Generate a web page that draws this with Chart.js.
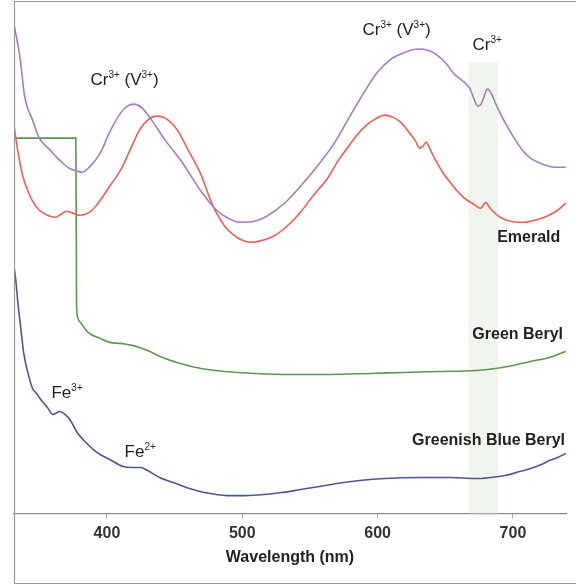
<!DOCTYPE html>
<html>
<head>
<meta charset="utf-8">
<script src="https://cdn.jsdelivr.net/npm/chart.js@4.4.1/dist/chart.umd.min.js"></script>
<style>
html,body{margin:0;padding:0;background:#fff;}
canvas{display:block;}
</style>
</head>
<body>
<canvas id="c" width="576" height="587"></canvas>
<script>
// Wavelengths (nm) and relative absorbance readings for each spectrum
const purpleNm = [331,336,339,345,350,358,365,372,378,381.5,387,395,402,410,415,420,426,432,443,456,469,481,491,498,509,518,532,543,556,567,580,591,600,609,619,625,631,636.5,643,651,656.5,662,668,671,674,676.5,679,681,683,688,694,700,707,713,722,731,739];
const purpleAbs = [4.91,4.53,4.18,3.93,3.75,3.63,3.53,3.45,3.42,3.41,3.46,3.60,3.81,4.00,4.07,4.09,4.05,3.95,3.73,3.50,3.23,3.03,2.94,2.91,2.92,2.97,3.11,3.27,3.48,3.68,3.98,4.23,4.41,4.53,4.60,4.63,4.64,4.63,4.59,4.49,4.39,4.33,4.25,4.15,4.07,4.09,4.18,4.24,4.22,4.07,3.91,3.77,3.63,3.55,3.49,3.46,3.46];

const emeraldNm = [331,334,338,342,345,350,356,362,366,370,375,379,384,389,395,402,410,417,424,430,437,443,452,460,469,476,481,487,493,500,506,515,523,533,543,552,563,572,577,584,591,598,605.5,611,617,622.5,628,631,633.5,636,638,642,648,653.5,659,665,671,676,678,680,682,686,690.5,698,707.5,716,725,733,739];
const emeraldAbs = [3.91,3.63,3.36,3.21,3.12,3.03,2.98,2.96,2.99,3.02,3.00,2.98,2.99,3.03,3.13,3.27,3.43,3.63,3.83,3.93,3.97,3.95,3.83,3.63,3.40,3.15,3.00,2.87,2.79,2.73,2.71,2.73,2.77,2.87,3.01,3.17,3.35,3.55,3.64,3.77,3.87,3.94,3.98,3.96,3.91,3.82,3.72,3.65,3.67,3.71,3.66,3.55,3.41,3.31,3.22,3.14,3.09,3.05,3.08,3.11,3.07,3.01,2.96,2.92,2.91,2.93,2.97,3.03,3.10];

const greenNm = [331,350,365,377,377.5,378,381,386,395,402,410,418.5,424,430,436,443,454,469.5,487,510,535,565,594,619,646,673,687,700,713,727,739];
const greenAbs = [3.75,3.75,3.75,3.75,2.13,1.98,1.90,1.81,1.75,1.71,1.70,1.68,1.66,1.63,1.59,1.55,1.50,1.45,1.42,1.40,1.39,1.39,1.40,1.41,1.42,1.43,1.45,1.48,1.52,1.56,1.62];

const blueNm = [331,333,334,336.5,338.5,341.5,345,348,350.5,356,360,362,365,369,373,378,383,390,395,402,412,419,425,430,439,451,461,472,489,502,516,529,543,557,570,587,605.5,632,653.5,673,683,694,705,713,721,727,733,739];
const blueAbs = [2.51,2.28,2.13,1.83,1.60,1.41,1.25,1.20,1.15,1.06,0.99,1.00,1.02,0.99,0.93,0.81,0.73,0.64,0.59,0.54,0.47,0.46,0.46,0.43,0.36,0.30,0.25,0.21,0.18,0.18,0.19,0.21,0.24,0.27,0.30,0.33,0.35,0.36,0.36,0.35,0.36,0.38,0.42,0.45,0.49,0.53,0.56,0.60];

const xTicks = [400,500,600,700];
const xRange = [331.3,739.2];
const yRange = [0,5];
const band = [667,689,4.51]; // Cr3+ highlighted band: from, to, top

// Annotation labels: [segments, wavelength, absorbance, align, bold]
const labels = [
  [[['Cr'],['3+',1],[' (V'],['3+',1],[')']], 413, 4.33, 'center', false],
  [[['Cr'],['3+',1],[' (V'],['3+',1],[')']], 614, 4.83, 'center', false],
  [[['Cr'],['3+',1]], 681, 4.68, 'center', false],
  [[['Emerald']], 735, 2.76, 'right', true],
  [[['Green Beryl']], 737, 1.79, 'right', true],
  [[['Greenish Blue Beryl']], 738.5, 0.73, 'right', true],
  [[['Fe'],['3+',1]], 359, 1.20, 'left', false],
  [[['Fe'],['2+',1]], 413, 0.61, 'left', false]
];

const FONT = "'Liberation Sans',Arial,sans-serif";

function pts(xs, ys){ return xs.map((x,i)=>({x:x, y:ys[i]})); }

const framePlugin = {
  id:'frame',
  beforeDatasetsDraw(chart){
    const {ctx, scales:{x,y}, chartArea} = chart;
    ctx.save();
    ctx.fillStyle = 'rgba(222,234,214,0.45)';
    const x0 = x.getPixelForValue(band[0]), x1 = x.getPixelForValue(band[1]);
    const yt = y.getPixelForValue(band[2]);
    ctx.fillRect(x0, yt, x1-x0, chartArea.bottom-yt);
    ctx.restore();
  },
  afterDraw(chart){
    const {ctx, scales:{x,y}, chartArea} = chart;
    ctx.save();
    ctx.strokeStyle = '#9a9a9a';
    ctx.lineWidth = 1.2;
    ctx.beginPath();
    ctx.moveTo(576, 1.5);
    ctx.lineTo(chartArea.left+0.5, 1.5);
    ctx.lineTo(chartArea.left+0.5, 583.5);
    ctx.lineTo(576, 583.5);
    ctx.stroke();
    // labels
    ctx.fillStyle = '#222';
    ctx.textBaseline = 'middle';
    labels.forEach(([segs, lx, ly, align, bold])=>{
      const base = bold ? 'bold 16px ' : '17px ';
      const sup = bold ? 'bold 10px ' : '10px ';
      let w = 0;
      segs.forEach(s=>{ ctx.font = (s[1]?sup:base)+FONT; w += ctx.measureText(s[0]).width; });
      let px = x.getPixelForValue(lx);
      const py = y.getPixelForValue(ly);
      if (align==='center') px -= w/2; else if (align==='right') px -= w;
      ctx.textAlign = 'left';
      segs.forEach(s=>{
        ctx.font = (s[1]?sup:base)+FONT;
        ctx.fillText(s[0], px, s[1] ? py-5 : py);
        px += ctx.measureText(s[0]).width;
      });
    });
    ctx.restore();
  }
};

const common = {pointRadius:0, borderWidth:1.6, fill:false, cubicInterpolationMode:'monotone'};

new Chart(document.getElementById('c'), {
  type:'line',
  data:{
    datasets:[
      Object.assign({label:'Cr-rich emerald', data:pts(purpleNm,purpleAbs), borderColor:'#a47cc6'}, common),
      Object.assign({label:'Emerald', data:pts(emeraldNm,emeraldAbs), borderColor:'#ef5e52'}, common),
      Object.assign({label:'Green Beryl', data:pts(greenNm,greenAbs), borderColor:'#5e9650'}, common),
      Object.assign({label:'Greenish Blue Beryl', data:pts(blueNm,blueAbs), borderColor:'#4c5896'}, common)
    ]
  },
  options:{
    responsive:false,
    animation:false,
    layout:{padding:{left:14, right:10, top:13, bottom:20}},
    plugins:{legend:{display:false}, tooltip:{enabled:false}},
    scales:{
      x:{
        type:'linear', min:xRange[0], max:xRange[1],
        afterBuildTicks(axis){ axis.ticks = xTicks.map(v=>({value:v})); },
        ticks:{color:'#333', font:{family:FONT, size:16, weight:'bold'}, padding:5, maxRotation:0},
        grid:{display:true, drawOnChartArea:false, drawTicks:true, tickLength:5, color:'#b0b0b0'},
        border:{display:true, color:'#8a8a8a', width:1.2},
        title:{display:true, text:'Wavelength (nm)', color:'#222', font:{family:FONT, size:16, weight:'bold'}, padding:{top:0, bottom:0}}
      },
      y:{
        display:false, min:yRange[0], max:yRange[1]
      }
    }
  },
  plugins:[framePlugin]
});
</script>
</body>
</html>
